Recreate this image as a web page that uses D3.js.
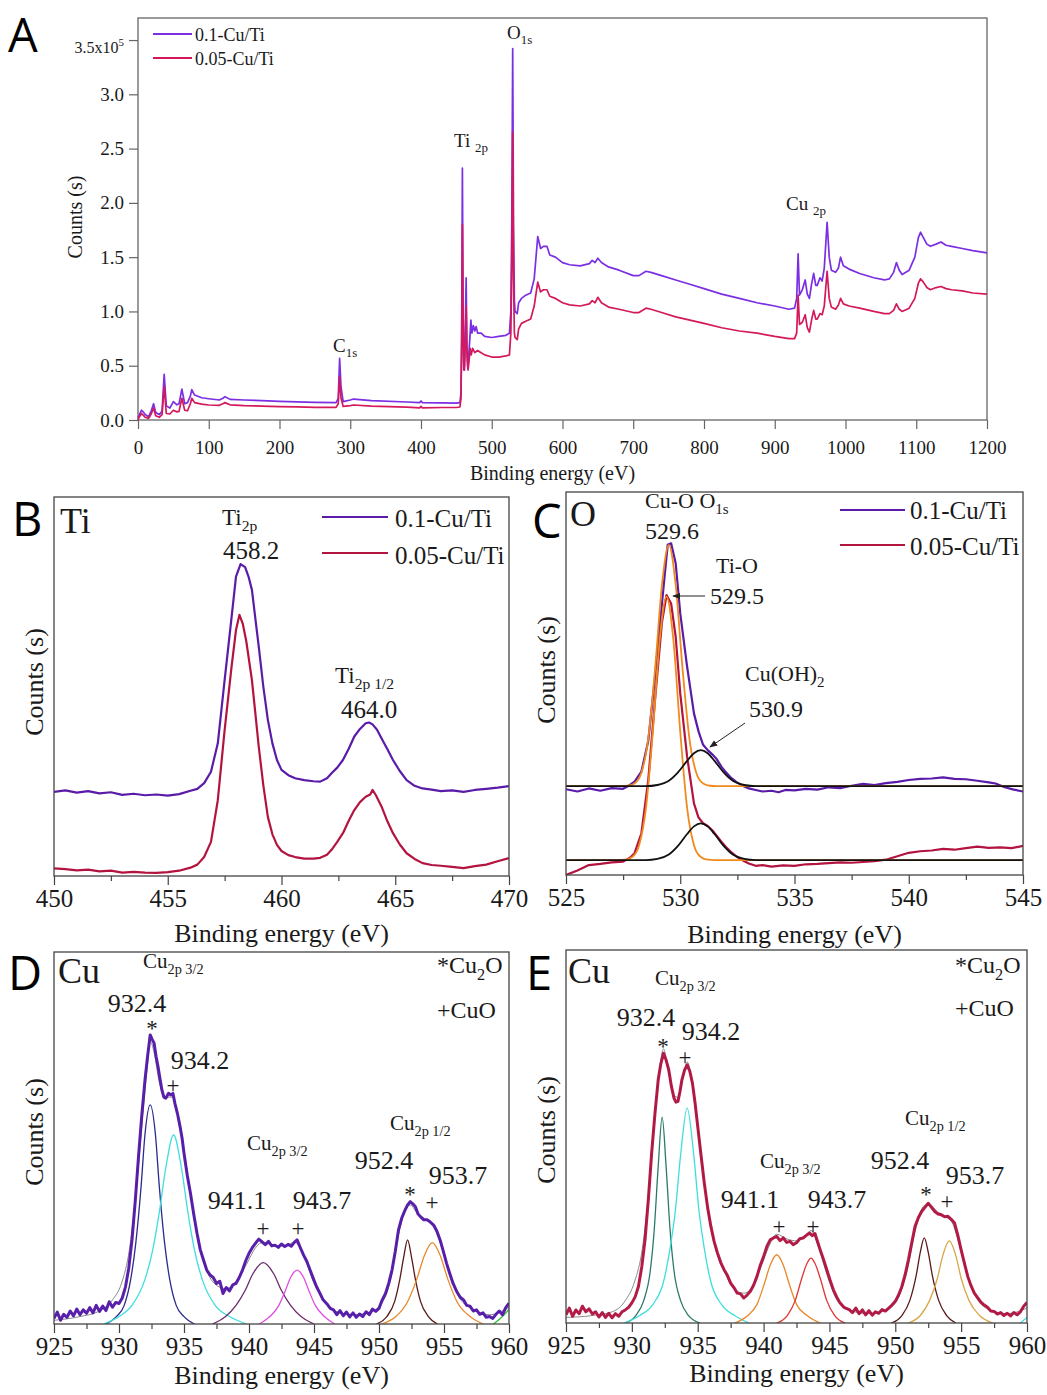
<!DOCTYPE html>
<html lang="en">
<head>
<meta charset="UTF-8">
<title>XPS Cu/Ti</title>
<script src="https://d3js.org/d3.v7.min.js"></script>
<style>
  body { margin: 0; background: #fff; }
  svg { display: block; }
  svg text { font-family: 'Liberation Serif', 'Times New Roman', serif; }
</style>
</head>
<body>
<script>
/* ========== data ========== */
// A: survey, counts in 1e5
const surveyHigh = [[0,0.02],[2,0.05],[5,0.09],[8,0.07],[10,0.05],[15,0.03],[19,0.09],[22,0.15],[25,0.07],[30,0.05],[34,0.08],[37,0.42],[40,0.13],[45,0.11],[50,0.17],[55,0.14],[58,0.15],[62,0.285],[66,0.15],[70,0.16],[74,0.22],[76,0.28],[80,0.23],[90,0.205],[100,0.196],[115,0.184],[120,0.2],[123,0.215],[130,0.19],[150,0.184],[175,0.178],[200,0.172],[225,0.167],[250,0.163],[280,0.16],[283,0.2],[285,0.567],[287,0.3],[290,0.17],[300,0.184],[305,0.193],[330,0.178],[380,0.166],[398,0.16],[400,0.175],[402,0.16],[430,0.157],[450,0.155],[455,0.16],[456.5,0.25],[457.5,0.8],[458.5,2.32],[459.5,1.0],[460.5,0.5],[461.5,0.46],[462.5,0.8],[463.8,1.31],[464.8,0.7],[466,0.48],[467.5,0.6],[469,0.75],[470.5,0.92],[472,0.8],[474,0.87],[476,0.82],[478,0.86],[480,0.8],[485,0.8],[490,0.77],[500,0.76],[510,0.77],[520,0.78],[525,0.8],[527,1.0],[528.3,1.8],[529.6,3.42],[530.8,1.8],[532,1.1],[533,1.0],[536,0.98],[538,1.08],[542,1.12],[548,1.15],[555,1.17],[560,1.3],[565,1.69],[569,1.58],[573,1.6],[578,1.6],[582,1.52],[590,1.5],[600,1.45],[610,1.43],[625,1.42],[638,1.44],[642,1.47],[646,1.45],[650,1.49],[655,1.45],[665,1.41],[680,1.38],[700,1.33],[708,1.33],[718,1.37],[725,1.36],[740,1.33],[760,1.29],[780,1.25],[800,1.21],[825,1.16],[850,1.12],[875,1.08],[900,1.05],[920,1.02],[928,1.03],[931,1.12],[933,1.53],[935,1.15],[939,1.2],[943,1.29],[946,1.16],[949,1.12],[952,1.25],[955,1.35],[958,1.24],[960,1.24],[964,1.31],[967,1.28],[970,1.4],[974,1.82],[977,1.5],[980,1.38],[986,1.36],[990,1.4],[993,1.5],[997,1.42],[1005,1.39],[1020,1.35],[1040,1.31],[1055,1.29],[1062,1.3],[1068,1.36],[1072,1.45],[1076,1.38],[1080,1.34],[1090,1.38],[1098,1.5],[1103,1.68],[1106,1.73],[1110,1.68],[1115,1.62],[1120,1.6],[1128,1.62],[1135,1.64],[1142,1.61],[1150,1.6],[1165,1.58],[1180,1.56],[1200,1.54]];
const surveyLow = [[0,0.0],[2,0.03],[5,0.06],[8,0.04],[10,0.025],[15,0.015],[19,0.06],[22,0.11],[25,0.04],[30,0.025],[34,0.05],[37,0.31],[40,0.06],[45,0.055],[50,0.09],[55,0.075],[58,0.08],[62,0.2],[66,0.09],[70,0.085],[74,0.15],[76,0.2],[80,0.16],[90,0.147],[100,0.138],[115,0.135],[120,0.15],[123,0.16],[130,0.14],[150,0.132],[175,0.128],[200,0.123],[225,0.12],[250,0.117],[280,0.116],[283,0.15],[285,0.4],[287,0.2],[290,0.125],[300,0.132],[305,0.138],[330,0.128],[380,0.118],[398,0.112],[400,0.125],[402,0.112],[430,0.115],[450,0.115],[455,0.12],[456.5,0.2],[457.5,0.7],[458.5,1.8],[459.5,0.8],[460.5,0.46],[461.5,0.5],[462.5,0.7],[463.8,1.05],[465,0.6],[466.5,0.46],[468,0.55],[469.5,0.66],[471,0.6],[473,0.66],[476,0.62],[480,0.64],[485,0.62],[490,0.6],[500,0.58],[510,0.58],[520,0.59],[525,0.6],[527,0.8],[528.3,1.4],[529.6,2.65],[530.8,1.3],[532,0.8],[533,0.76],[536,0.74],[538,0.84],[542,0.89],[548,0.91],[555,0.93],[560,1.05],[565,1.27],[569,1.18],[573,1.2],[578,1.2],[582,1.14],[590,1.12],[600,1.08],[610,1.06],[625,1.05],[638,1.07],[642,1.1],[646,1.08],[650,1.13],[655,1.08],[665,1.04],[680,1.02],[700,0.99],[708,0.99],[718,1.03],[725,1.02],[740,0.99],[760,0.95],[780,0.92],[800,0.89],[825,0.85],[850,0.82],[875,0.8],[900,0.77],[920,0.75],[928,0.75],[931,0.8],[933,1.15],[935,0.88],[939,0.9],[943,0.97],[946,0.85],[949,0.81],[952,0.92],[955,1.01],[958,0.93],[960,0.93],[964,0.98],[967,0.97],[970,1.05],[974,1.37],[977,1.12],[980,1.04],[986,1.02],[990,1.06],[993,1.12],[997,1.07],[1005,1.05],[1020,1.03],[1040,1.0],[1055,0.98],[1062,0.98],[1068,1.01],[1072,1.07],[1076,1.02],[1080,1.0],[1090,1.03],[1098,1.12],[1103,1.26],[1106,1.3],[1110,1.27],[1115,1.22],[1120,1.2],[1128,1.22],[1135,1.23],[1142,1.21],[1150,1.2],[1165,1.19],[1180,1.17],[1200,1.16]];
const surveyYTicks = [0, 0.5, 1.0, 1.5, 2.0, 2.5, 3.0, 3.5];
const surveyXTicks = [0,100,200,300,400,500,600,700,800,900,1000,1100,1200];
const seriesNames = ["0.1-Cu/Ti", "0.05-Cu/Ti"];

// B: Ti 2p (arbitrary units)
const tiHigh = [[450,22.2],[450.5,22.6],[451,22.0],[451.5,22.4],[452,21.8],[452.5,22.1],[453,21.4],[453.5,21.7],[454,21.3],[454.5,21.5],[455,21.2],[455.5,21.6],[456,22.5],[456.3,23.0],[456.6,24.5],[456.9,27.5],[457.2,35],[457.5,51.7],[457.8,68],[458.0,79.0],[458.2,82.3],[458.4,81.5],[458.55,79],[458.7,75.5],[458.85,68],[459.0,60.5],[459.2,50],[459.4,41.2],[459.6,35],[459.8,30.6],[460.0,28.0],[460.3,26.6],[460.6,25.8],[461.0,25.3],[461.4,25.0],[461.7,24.9],[462.0,25.8],[462.2,27.1],[462.45,28.6],[462.7,30.6],[462.95,33.5],[463.2,36.8],[463.45,38.8],[463.7,40.3],[463.85,40.5],[464.0,40.0],[464.2,38.6],[464.4,36.3],[464.65,33.5],[464.9,30.6],[465.2,27.7],[465.5,25.3],[465.85,23.8],[466.2,23.1],[466.6,22.8],[467.0,22.4],[467.5,22.6],[468.0,22.2],[468.5,22.7],[469.0,23.0],[469.5,23.3],[470,23.7]];
const tiLow = [[450,2.0],[450.5,1.8],[451,1.5],[451.5,1.7],[452,1.2],[452.5,1.4],[453,0.9],[453.5,1.1],[454,0.9],[454.5,0.8],[455,1.0],[455.5,1.4],[456,2.2],[456.3,3.0],[456.6,5.0],[456.9,9.0],[457.2,20],[457.5,38.5],[457.8,55],[458.0,64.9],[458.15,68.9],[458.3,66.5],[458.45,62],[458.7,51.7],[458.85,43],[459.0,34.1],[459.2,24],[459.4,15.6],[459.6,11],[459.8,8.2],[460.0,6.6],[460.3,5.5],[460.6,5.0],[461.0,4.6],[461.4,4.6],[461.7,4.8],[462.0,5.6],[462.2,6.9],[462.45,9.0],[462.7,11.3],[462.95,14.5],[463.2,17.4],[463.45,19.5],[463.7,20.9],[463.9,21.5],[464.0,22.7],[464.15,21.3],[464.4,18.3],[464.65,14.5],[464.9,11.3],[465.2,8.3],[465.5,6.0],[465.85,4.5],[466.2,3.4],[466.6,2.9],[467.0,2.7],[467.5,2.4],[468.0,2.1],[468.5,2.6],[469.0,3.0],[469.5,3.9],[470,4.7]];

// C: O 1s
const oHigh = [[525,22.4],[525.5,21.8],[526,22.6],[526.5,22.0],[527,22.7],[527.5,22.5],[527.8,23.5],[528.0,24.4],[528.3,27],[528.6,35],[528.9,52],[529.2,71],[529.45,86.2],[529.6,86.6],[529.8,81.4],[530.0,68.3],[530.3,54.4],[530.6,42.2],[530.8,37.5],[531.0,34.0],[531.2,32.6],[531.4,31.5],[531.6,30.2],[531.8,28.3],[532.0,26.8],[532.2,25.5],[532.45,24.3],[532.7,23.4],[533.0,22.6],[533.3,22.2],[533.6,21.8],[534.0,22.0],[534.3,21.6],[534.6,22.2],[535,22.1],[535.5,22.5],[536,22.3],[536.5,22.9],[537,22.7],[537.5,23.3],[538,23.8],[538.5,23.5],[539,24.0],[539.5,24.3],[540,24.8],[540.5,25.1],[541,25.2],[541.5,25.5],[542,25.1],[542.5,25.0],[543,24.6],[543.5,24.2],[543.8,23.9],[544.2,22.9],[544.6,22.3],[545,21.8]];
const oLow = [[525,0],[525.5,1.2],[526,2.6],[526.5,2.9],[527,3.3],[527.5,3.5],[527.8,4.5],[528.0,5.7],[528.3,10.9],[528.6,24.8],[528.9,46],[529.2,66],[529.4,73.1],[529.6,70.9],[529.8,62.2],[530.0,47.4],[530.3,30.9],[530.6,18.7],[530.8,15.0],[531.0,13.5],[531.2,12.8],[531.4,11.7],[531.6,10.2],[531.8,8.7],[532.0,7.3],[532.2,6.1],[532.45,4.9],[532.7,3.9],[533.0,3.0],[533.3,2.4],[533.6,2.6],[534,2.2],[534.5,2.5],[535,2.4],[535.5,2.8],[536,2.9],[536.5,3.1],[537,3.3],[537.5,3.2],[538,3.4],[538.5,3.6],[539,4.0],[539.5,4.9],[540,5.8],[540.5,6.2],[541,6.4],[541.5,6.8],[542,6.6],[542.5,7.0],[543,7.4],[543.5,7.1],[544,7.2],[544.5,7.0],[545,7.6]];
const oHighCuO = [[525,23.2],[527.4,23.2],[527.7,23.3],[528.0,23.9],[528.3,26.7],[528.6,35.7],[528.9,53.9],[529.2,75.8],[529.5,86.2],[529.8,75.8],[530.1,53.9],[530.4,35.7],[530.7,26.7],[531.0,23.9],[531.3,23.3],[531.6,23.2],[545,23.2]];
const oHighOH = [[525,23.2],[528.5,23.2],[529.0,23.5],[529.5,24.6],[529.9,26.8],[530.3,29.8],[530.6,31.8],[530.9,32.6],[531.2,31.8],[531.5,29.8],[531.9,26.8],[532.3,24.6],[532.8,23.5],[533.3,23.2],[545,23.2]];
const oLowTiO = [[525,3.9],[527.3,3.9],[527.6,4.0],[527.9,4.7],[528.2,7.8],[528.5,17.5],[528.8,37.4],[529.1,61.3],[529.4,72.7],[529.7,61.3],[530.0,37.4],[530.3,17.5],[530.6,7.8],[530.9,4.7],[531.2,4.0],[531.5,3.9],[545,3.9]];
const oLowOH = [[525,3.9],[528.5,3.9],[529.0,4.2],[529.5,5.35],[529.9,7.6],[530.3,10.7],[530.6,12.7],[530.9,13.5],[531.2,12.7],[531.5,10.7],[531.9,7.6],[532.3,5.35],[532.8,4.2],[533.3,3.9],[545,3.9]];

// D: Cu 2p, 0.1-Cu/Ti
const cuHigh = [[925,1.5],[925.25,3.2],[925.5,1.0],[925.75,2.6],[926,1.8],[926.25,3.5],[926.5,2.2],[926.75,4.0],[927,2.5],[927.25,3.8],[927.5,2.9],[927.75,4.4],[928,3.0],[928.25,5.0],[928.5,3.4],[928.75,4.8],[929,3.6],[929.25,6.0],[929.5,4.5],[929.75,5.8],[930,5.5],[930.25,7.0],[930.5,10.0],[930.75,15],[931,22.6],[931.25,33],[931.5,45],[931.75,56],[932,65.6],[932.2,72],[932.4,77.7],[932.55,76.5],[932.7,75.5],[932.85,72],[933,69.2],[933.15,66],[933.3,62.9],[933.45,61],[933.6,60.7],[933.8,62],[934,61.6],[934.15,62],[934.3,59.3],[934.5,56.5],[934.7,53],[934.85,50],[935,45.9],[935.25,40],[935.5,35.1],[935.75,29.5],[936,24.4],[936.25,20],[936.5,17.2],[936.75,14.5],[937,13.2],[937.25,12.5],[937.5,10.9],[937.75,11.5],[938,8.2],[938.25,9.8],[938.5,8.9],[938.75,10.5],[939,10.9],[939.25,12.5],[939.5,14.5],[939.75,17],[940,19],[940.25,20.5],[940.5,21.7],[940.75,22.8],[941,22.1],[941.25,21.3],[941.5,22.2],[941.75,21.0],[942,21.2],[942.25,20.6],[942.5,21.5],[942.75,20.8],[943,21.4],[943.25,20.9],[943.5,22.0],[943.7,22.6],[943.95,20.5],[944.2,18.5],[944.45,16.8],[944.7,14.5],[944.95,12.2],[945.2,10],[945.45,8.3],[945.7,6.5],[946,5.4],[946.25,4.2],[946.5,3.8],[946.75,2.5],[947,3.6],[947.25,2.2],[947.5,3.2],[947.75,1.9],[948,3.0],[948.25,1.8],[948.5,2.7],[948.75,2.0],[949,3.3],[949.25,2.5],[949.5,4.0],[949.75,3.4],[950,4.2],[950.25,6.5],[950.5,8.2],[950.75,11],[951,14.5],[951.25,19.5],[951.5,25.3],[951.75,28.5],[952,30.6],[952.2,32.0],[952.4,32.9],[952.6,32.3],[952.8,31.5],[953,29.6],[953.2,28.8],[953.45,28.0],[953.7,28.0],[953.95,27.4],[954.2,26.6],[954.45,25.0],[954.7,22.6],[954.95,19.5],[955.2,16.3],[955.45,13.5],[955.7,10.9],[956,8.6],[956.25,7.2],[956.5,6.5],[956.75,5.0],[957,4.8],[957.25,3.5],[957.5,3.8],[957.75,2.6],[958,3.0],[958.25,1.8],[958.5,2.0],[958.75,1.5],[959,2.6],[959.25,3.5],[959.5,2.5],[959.75,4.4],[960,5.6]];
const cuHighEnvelope = [[925,1.0],[927,2.0],[928.5,3.5],[929.5,6.5],[930.2,11],[930.8,20],[931.3,35],[931.8,55],[932.2,70],[932.4,76],[932.7,73],[933.1,65],[933.6,61],[934.1,61],[934.6,55],[935.2,42],[935.8,28],[936.5,17],[937.3,11],[938.2,9.5],[939,11.5],[939.8,16],[940.5,20.5],[941.1,22],[942,21],[942.8,21],[943.5,22],[944.2,18.5],[945,11],[945.8,6],[946.6,3.5],[948,2.5],[949.3,3.2],[950.2,5.5],[950.9,12],[951.5,24],[952.0,30.5],[952.4,32],[952.9,30],[953.5,28.3],[954.2,26.2],[954.8,21],[955.4,13.5],[956.2,7],[957.2,4],[958.5,2.5],[960,4.5]];
const cuHighFits = [
  [[929.0,0],[929.8,2],[930.4,5],[930.9,12],[931.3,22],[931.7,37],[932.0,51],[932.4,58.9],[932.8,51],[933.1,37],[933.5,22],[933.9,12],[934.4,5],[935.0,2],[935.8,0]],
  [[928.8,0],[930,2],[931,5],[932,12],[932.6,20],[933.1,30],[933.6,42],[934.2,50.8],[934.8,42],[935.3,30],[935.8,20],[936.4,12],[937.4,5],[938.5,2],[939.8,0]],
  [[937.2,0],[938.2,2],[939,5],[939.7,9],[940.3,13.5],[941.1,16.5],[941.9,13.5],[942.5,9],[943.2,5],[944,2],[945,0]],
  [[940.8,0],[941.6,2],[942.3,5],[942.8,9],[943.2,12.5],[943.7,14.5],[944.2,12.5],[944.6,9],[945.1,5],[945.8,2],[946.6,0]],
  [[949.8,0],[950.6,2],[951.2,6],[951.6,12],[951.9,18],[952.2,22.6],[952.5,18],[952.8,12],[953.2,6],[953.8,2],[954.5,0]],
  [[950.2,0],[951.3,2],[952.2,6],[952.9,12],[953.5,18.5],[954.1,21.9],[954.7,18.5],[955.3,12],[956,6],[957,2],[958,0]],
  [[958.8,0],[959.5,2],[960,4]]
];
const cuHighFitColors = ["#2b2b8c", "#3fdede", "#6b2a6b", "#e04ce0", "#5a1a1a", "#e8892a", "#33c033"];

// E: Cu 2p, 0.05-Cu/Ti
const cuLow = [[925,2.2],[925.25,4.0],[925.5,1.8],[925.75,3.5],[926,2.5],[926.25,4.5],[926.5,3.0],[926.75,3.8],[927,2.4],[927.25,3.0],[927.5,1.6],[927.75,2.8],[928,1.5],[928.25,2.6],[928.5,1.4],[928.75,2.5],[929,1.8],[929.25,3.0],[929.5,3.5],[929.75,4.2],[930,5.4],[930.25,7.0],[930.5,9.8],[930.75,15],[931,22.3],[931.25,33],[931.5,45.5],[931.75,56],[932,65.2],[932.2,69.5],[932.4,72.3],[932.6,70.5],[932.8,67.9],[933,63.5],[933.2,60.3],[933.35,59.2],[933.5,59.4],[933.65,62],[933.8,65.2],[934,67.8],[934.2,69.2],[934.4,67.5],[934.6,64.3],[934.8,59],[935,52.7],[935.25,45],[935.5,37.5],[935.75,31],[936,25.9],[936.25,21.8],[936.5,18.8],[936.75,16.2],[937,14.3],[937.25,12.8],[937.5,10.7],[937.75,9.5],[938,8.0],[938.25,7.8],[938.5,6.7],[938.75,7.5],[939,8.5],[939.25,10.2],[939.5,12.5],[939.75,15.5],[940,17.8],[940.25,20.5],[940.5,22.3],[940.75,22.8],[941,23.2],[941.25,22.1],[941.5,22.8],[941.75,21.6],[942,21.9],[942.25,21.0],[942.5,21.5],[942.75,22.6],[943,22.8],[943.25,23.5],[943.5,24.1],[943.7,23.4],[943.9,24.0],[944.1,21.8],[944.3,19.6],[944.55,17.0],[944.8,14.3],[945.05,11.5],[945.3,8.9],[945.55,7.0],[945.8,5.4],[946.1,4.2],[946.5,3.6],[946.75,2.8],[947,4.0],[947.25,2.5],[947.5,3.5],[947.75,2.2],[948,3.3],[948.25,2.1],[948.5,3.0],[948.75,2.6],[949,3.6],[949.25,3.2],[949.5,4.0],[949.75,4.8],[950,5.8],[950.25,7.5],[950.5,9.8],[950.75,13],[951,17],[951.25,21.5],[951.5,25.9],[951.75,28.2],[952,29.9],[952.25,31.0],[952.5,32.1],[952.75,31.0],[953,29.9],[953.25,29.2],[953.5,29.0],[953.75,28.5],[954,28.6],[954.25,27.8],[954.5,26.8],[954.75,23.5],[955,19.6],[955.25,16.0],[955.5,12.5],[955.75,10.0],[956,8.0],[956.25,6.8],[956.5,5.6],[956.75,4.8],[957,4.2],[957.25,3.2],[957.5,3.1],[957.75,2.4],[958,2.8],[958.25,2.0],[958.5,2.6],[958.75,1.9],[959,2.8],[959.25,2.2],[959.5,3.0],[959.75,4.5],[960,5.5]];
const cuLowEnvelope = [[925,1.5],[927,2],[928.5,3],[929.5,6],[930.2,11],[930.8,20],[931.3,36],[931.8,58],[932.1,68],[932.4,73.5],[932.8,67],[933.2,61],[933.5,60.5],[933.9,66],[934.2,70],[934.6,64],[935.1,50],[935.6,35],[936.2,22],[937,14],[937.8,9],[938.5,8],[939.2,10],[939.8,15],[940.4,20.5],[941,23.8],[941.8,22.5],[942.5,22],[943.2,23.5],[943.6,24.8],[944.2,20],[944.9,12],[945.6,6],[946.5,3.5],[948,2.5],[949.3,3.5],[950.2,6.5],[950.9,14],[951.5,24.5],[952.2,31.5],[952.6,31.8],[953.2,29.8],[953.8,28.5],[954.3,27],[954.9,20.5],[955.5,12.5],[956.2,6.5],[957.2,3.5],[958.5,2.5],[960,4]];
const cuLowFits = [
  [[929.5,0],[930.3,2],[930.9,6],[931.4,14],[931.7,25],[932.0,42],[932.3,55.2],[932.6,42],[932.9,25],[933.2,14],[933.7,6],[934.3,2],[935.2,0]],
  [[929.4,0],[930.6,2],[931.6,5],[932.4,11],[932.9,20],[933.3,30],[933.7,45],[934.2,57.6],[934.7,45],[935.1,30],[935.5,20],[936.0,11],[936.8,5],[937.8,2],[938.9,0]],
  [[937.8,0],[938.8,2],[939.5,5],[940.1,11],[940.5,15.5],[941.0,18.3],[941.5,15.5],[941.9,11],[942.5,5],[943.3,2],[944.3,0]],
  [[941.0,0],[941.8,2],[942.4,6],[942.9,12],[943.3,16],[943.6,17.4],[943.9,16],[944.3,12],[944.8,6],[945.4,2],[946.2,0]],
  [[949.7,0],[950.5,2],[951.1,6],[951.6,13],[951.9,19],[952.2,22.8],[952.5,19],[952.8,13],[953.3,6],[953.9,2],[954.6,0]],
  [[951.0,0],[951.9,2],[952.6,6],[953.2,12],[953.6,18],[954.1,22],[954.6,18],[955.0,12],[955.6,6],[956.4,2],[957.4,0]],
  [[959.5,0],[960,1.5]]
];
const cuLowFitColors = ["#2a7a6a", "#3fdede", "#e8892a", "#e03535", "#5a1a1a", "#d9a64a", "#3fdede"];

/* ========== helpers ========== */
const SERIF = "'Liberation Serif', 'Times New Roman', serif";
const SANS = "'Open Sans', 'Liberation Sans', sans-serif";
const W = 1047, H = 1395;

let svg = d3.select("body").append("svg").attr("width", W).attr("height", H);
let defs = svg.append("defs");
defs.append("marker").attr("id", "arrow").attr("viewBox", "0 0 10 10")
    .attr("refX", 9).attr("refY", 5).attr("markerWidth", 8).attr("markerHeight", 8)
    .attr("orient", "auto-start-reverse")
    .append("path").attr("d", "M0,1 L10,5 L0,9 z").attr("fill", "#222");

// text with sub/superscript parts: [[str, "sub"|"sup"|undefined], ...]
function rich(x, y, parts, size, anchor) {
    let t = svg.append("text").attr("x", x).attr("y", y)
        .style("font-family", SERIF).style("font-size", size + "px")
        .attr("fill", "#1a1a1a").attr("text-anchor", anchor || "start");
    let cur = 0;
    parts.forEach(p => {
        let want = p[1] === "sub" ? size * 0.28 : (p[1] === "sup" ? -size * 0.42 : 0);
        let ts = t.append("tspan").attr("dy", want - cur).text(p[0]);
        if (p[1]) ts.style("font-size", (size * 0.68) + "px");
        cur = want;
    });
    return t;
}

function letter(x, y, s) {
    svg.append("text").attr("x", x).attr("y", y).style("font-family", SANS)
       .style("font-size", "47px").attr("fill", "#000").text(s);
}

function frame(o) {
    svg.append("rect").attr("x", o.l).attr("y", o.t)
       .attr("width", o.r - o.l).attr("height", o.b - o.t)
       .attr("fill", "none").attr("stroke", o.stroke || "#444").attr("stroke-width", 1.3);
}

function styleAxis(g, size, color) {
    g.attr("font-family", null).attr("font-size", null);
    g.select(".domain").remove();
    g.selectAll("line").attr("stroke", color).attr("stroke-width", 1.2);
    g.selectAll("text").style("font-family", SERIF).style("font-size", size + "px").attr("fill", "#1a1a1a");
}

// panels B..E share a look
function spectrumPanel(o) {
    let x = d3.scaleLinear().domain(o.xd).range([o.l, o.r]);
    let y = d3.scaleLinear().domain([0, 100]).range([o.b, o.t]);
    let major = d3.range(o.xd[0], o.xd[1] + 0.01, 5);
    let minor = d3.range(o.xd[0] + 2.5, o.xd[1], 5);
    let gMin = svg.append("g").attr("transform", `translate(0,${o.b})`)
        .call(d3.axisBottom(x).tickValues(minor).tickSize(5).tickSizeOuter(0).tickFormat(""));
    styleAxis(gMin, 25, "#444");
    let gMaj = svg.append("g").attr("transform", `translate(0,${o.b})`)
        .call(d3.axisBottom(x).tickValues(major).tickSize(9).tickSizeOuter(0).tickPadding(4).tickFormat(d3.format("d")));
    styleAxis(gMaj, 25, "#444");
    svg.append("text").attr("x", (o.l + o.r) / 2).attr("y", o.b + o.titleGap)
       .attr("text-anchor", "middle").style("font-family", SERIF).style("font-size", "26px")
       .attr("fill", "#1a1a1a").text("Binding energy (eV)");
    svg.append("text").attr("transform", `translate(${o.yx},${o.yc}) rotate(-90)`)
       .attr("text-anchor", "middle").style("font-family", SERIF).style("font-size", "26px")
       .attr("fill", "#1a1a1a").text("Counts (s)");
    let clipId = "clip" + o.id;
    defs.append("clipPath").attr("id", clipId).append("rect")
        .attr("x", o.l).attr("y", o.t).attr("width", o.r - o.l).attr("height", o.b - o.t);
    let plot = svg.append("g").attr("clip-path", `url(#${clipId})`);
    let line = d3.line().x(d => x(d[0])).y(d => y(d[1]));
    return {x, y, plot, line};
}

function legend(x0, x1, yLines, tx, yTexts, colors, size) {
    seriesNames.forEach((n, i) => {
        svg.append("line").attr("x1", x0).attr("x2", x1).attr("y1", yLines[i]).attr("y2", yLines[i])
           .attr("stroke", colors[i]).attr("stroke-width", 2.2);
        svg.append("text").attr("x", tx).attr("y", yTexts[i]).style("font-family", SERIF)
           .style("font-size", size + "px").attr("fill", "#1a1a1a").text(n);
    });
}

/* ========== A: survey ========== */
const A = {l: 138, r: 987, t: 18, b: 420};
let xA = d3.scaleLinear().domain([0, 1200]).range([A.l, A.r]);
let yA = d3.scaleLinear().domain([0, 3.703]).range([A.b, A.t]);
let gax = svg.append("g").attr("transform", `translate(0,${A.b})`)
    .call(d3.axisBottom(xA).tickValues(surveyXTicks).tickSize(9).tickSizeOuter(0).tickPadding(12).tickFormat(d3.format("d")));
styleAxis(gax, 19, "#666");
let gay = svg.append("g").attr("transform", `translate(${A.l},0)`)
    .call(d3.axisLeft(yA).tickValues(surveyYTicks).tickSize(9).tickSizeOuter(0).tickPadding(5)
        .tickFormat(d => d === 3.5 ? "" : d3.format(".1f")(d)));
styleAxis(gay, 19, "#666");
frame({l: A.l, r: A.r, t: A.t, b: A.b, stroke: "#666"});
rich(124, 53, [["3.5x10"], ["5", "sup"]], 16, "end");
svg.append("text").attr("x", (A.l + A.r) / 2 - 10).attr("y", 480).attr("text-anchor", "middle")
   .style("font-family", SERIF).style("font-size", "20px").attr("fill", "#1a1a1a").text("Binding energy (eV)");
svg.append("text").attr("transform", "translate(82,217) rotate(-90)").attr("text-anchor", "middle")
   .style("font-family", SERIF).style("font-size", "20px").attr("fill", "#1a1a1a").text("Counts (s)");

const colA = ["#7b2fe3", "#d3195b"];
let lineA = d3.line().x(d => xA(d[0])).y(d => yA(d[1]));
[surveyHigh, surveyLow].forEach((s, i) => {
    svg.append("path").datum(s).attr("d", lineA).attr("fill", "none")
       .attr("stroke", colA[i]).attr("stroke-width", 1.7).attr("stroke-linejoin", "round");
});
legend(153, 192, [34, 58], 195, [41, 65], colA, 18);
rich(507, 39, [["O"], ["1s", "sub"]], 19);
rich(454, 147, [["Ti "], ["2p", "sub"]], 19);
rich(333, 352, [["C"], ["1s", "sub"]], 19);
rich(786, 210, [["Cu "], ["2p", "sub"]], 19);
letter(8, 52, "A");

/* ========== B: Ti ========== */
const colBC = ["#5a1ca8", "#b3143f"];
let B = spectrumPanel({id: "B", l: 54, r: 509, t: 497, b: 876, xd: [450, 470], titleGap: 66, yx: 43, yc: 682});
[tiHigh, tiLow].forEach((s, i) => {
    B.plot.append("path").datum(s).attr("d", B.line).attr("fill", "none")
      .attr("stroke", colBC[i]).attr("stroke-width", 2.2).attr("stroke-linejoin", "round");
});
frame({l: 54, r: 509, t: 497, b: 876});
legend(322, 388, [517, 553], 395, [527, 564], colBC, 25);
rich(60, 533, [["Ti"]], 36);
rich(222, 525, [["Ti"], ["2p", "sub"]], 23);
rich(251, 559, [["458.2"]], 25, "middle");
rich(335, 683, [["Ti"], ["2p 1/2", "sub"]], 23);
rich(369, 718, [["464.0"]], 25, "middle");
letter(12, 536, "B");

/* ========== C: O ========== */
let C = spectrumPanel({id: "C", l: 566, r: 1023, t: 492, b: 875, xd: [525, 545], titleGap: 68, yx: 555, yc: 670});
[oHigh, oLow].forEach((s, i) => {
    C.plot.append("path").datum(s).attr("d", C.line).attr("fill", "none")
      .attr("stroke", colBC[i]).attr("stroke-width", 2.2).attr("stroke-linejoin", "round");
});
let smoothC = d3.line().x(d => C.x(d[0])).y(d => C.y(d[1])).curve(d3.curveMonotoneX);
[oHighCuO, oLowTiO].forEach(s => {
    C.plot.append("path").datum(s).attr("d", smoothC).attr("fill", "none")
      .attr("stroke", "#f08a1c").attr("stroke-width", 1.8);
});
[oHighOH, oLowOH].forEach(s => {
    C.plot.append("path").datum(s).attr("d", smoothC).attr("fill", "none")
      .attr("stroke", "#111").attr("stroke-width", 1.8);
});
frame({l: 566, r: 1023, t: 492, b: 875});
legend(840, 905, [510, 545], 910, [519, 555], colBC, 25);
rich(570, 526, [["O"]], 36);
rich(645, 508, [["Cu-O  O"], ["1s", "sub"]], 22);
rich(672, 539, [["529.6"]], 24, "middle");
rich(737, 573, [["Ti-O"]], 22, "middle");
rich(710, 604, [["529.5"]], 24);
rich(745, 681, [["Cu(OH)"], ["2", "sub"]], 22);
rich(776, 717, [["530.9"]], 24, "middle");
svg.append("line").attr("x1", 705).attr("y1", 596).attr("x2", 673).attr("y2", 596)
   .attr("stroke", "#222").attr("stroke-width", 1).attr("marker-end", "url(#arrow)");
svg.append("line").attr("x1", 745).attr("y1", 723).attr("x2", 710).attr("y2", 747)
   .attr("stroke", "#222").attr("stroke-width", 1).attr("marker-end", "url(#arrow)");
letter(532, 538, "C");

/* ========== D / E: Cu ========== */
function cuPanel(o, spec, envelope, fits, fitColors, color) {
    let P = spectrumPanel(o);
    let fitLine = d3.line().x(d => P.x(d[0])).y(d => P.y(d[1])).curve(d3.curveMonotoneX);
    fits.forEach((f, i) => {
        P.plot.append("path").datum(f).attr("d", fitLine).attr("fill", "none")
          .attr("stroke", fitColors[i]).attr("stroke-width", 1.3);
    });
    P.plot.append("path").datum(envelope).attr("d", fitLine).attr("fill", "none")
      .attr("stroke", "#8a8a8a").attr("stroke-width", 1);
    P.plot.append("path").datum(spec).attr("d", P.line).attr("fill", "none")
      .attr("stroke", color).attr("stroke-width", 3).attr("stroke-linejoin", "round")
      .attr("stroke-opacity", 0.95);
    frame(o);
    return P;
}

cuPanel({id: "D", l: 54, r: 509, t: 952, b: 1324, xd: [925, 960], titleGap: 60, yx: 43, yc: 1132},
        cuHigh, cuHighEnvelope, cuHighFits, cuHighFitColors, "#5015a6");
rich(58, 983, [["Cu"]], 36);
rich(143, 968, [["Cu"], ["2p 3/2", "sub"]], 21);
rich(137, 1012, [["932.4"]], 26, "middle");
rich(152, 1036, [["*"]], 23, "middle");
rich(200, 1069, [["934.2"]], 26, "middle");
rich(173, 1093, [["+"]], 23, "middle");
rich(247, 1150, [["Cu"], ["2p 3/2", "sub"]], 21);
rich(237, 1209, [["941.1"]], 26, "middle");
rich(322, 1209, [["943.7"]], 26, "middle");
rich(263, 1236, [["+"]], 23, "middle");
rich(298, 1236, [["+"]], 23, "middle");
rich(390, 1130, [["Cu"], ["2p 1/2", "sub"]], 21);
rich(384, 1169, [["952.4"]], 26, "middle");
rich(458, 1184, [["953.7"]], 26, "middle");
rich(410, 1202, [["*"]], 23, "middle");
rich(432, 1210, [["+"]], 23, "middle");
rich(437, 973, [["*Cu"], ["2", "sub"], ["O"]], 24);
rich(437, 1018, [["+CuO"]], 24);
letter(8, 990, "D");

cuPanel({id: "E", l: 566, r: 1027, t: 950, b: 1323, xd: [925, 960], titleGap: 59, yx: 555, yc: 1130},
        cuLow, cuLowEnvelope, cuLowFits, cuLowFitColors, "#b0103e");
rich(568, 983, [["Cu"]], 36);
rich(655, 985, [["Cu"], ["2p 3/2", "sub"]], 21);
rich(646, 1026, [["932.4"]], 26, "middle");
rich(663, 1054, [["*"]], 23, "middle");
rich(711, 1040, [["934.2"]], 26, "middle");
rich(685, 1065, [["+"]], 23, "middle");
rich(760, 1168, [["Cu"], ["2p 3/2", "sub"]], 21);
rich(750, 1208, [["941.1"]], 26, "middle");
rich(837, 1208, [["943.7"]], 26, "middle");
rich(779, 1234, [["+"]], 23, "middle");
rich(813, 1234, [["+"]], 23, "middle");
rich(905, 1125, [["Cu"], ["2p 1/2", "sub"]], 21);
rich(900, 1169, [["952.4"]], 26, "middle");
rich(975, 1184, [["953.7"]], 26, "middle");
rich(926, 1202, [["*"]], 23, "middle");
rich(947, 1209, [["+"]], 23, "middle");
rich(955, 973, [["*Cu"], ["2", "sub"], ["O"]], 24);
rich(955, 1016, [["+CuO"]], 24);
letter(526, 990, "E");
</script>
</body>
</html>
